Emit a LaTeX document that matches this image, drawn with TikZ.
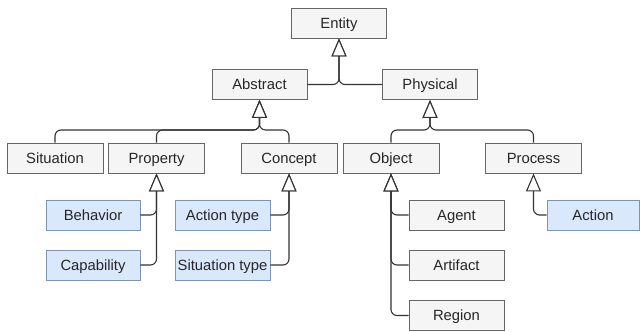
\documentclass[tikz,border=0pt]{standalone}
\usepackage{fontspec}
\setmainfont{Liberation Sans}
\usetikzlibrary{arrows.meta}
\definecolor{gfill}{HTML}{F5F5F5}
\definecolor{gline}{HTML}{666666}
\definecolor{bfill}{HTML}{DAE8FC}
\definecolor{bline}{HTML}{7F93B3}
\definecolor{conn}{HTML}{333333}
\begin{document}
\begin{tikzpicture}[x=1pt,y=1pt,
  box/.style={draw=gline, fill=gfill, line width=0.9pt, minimum width=95pt, minimum height=30pt, inner sep=1pt, text height=12pt, text depth=1.5pt, font=\fontsize{14.8}{16}\selectfont, text=black!85},
  bbox/.style={box, draw=bline, fill=bfill},
  inh/.style={draw=conn, line width=1.1pt, rounded corners=6pt, -{Triangle[width=15pt,length=18pt,fill=white,line width=1.1pt]}}
]
\useasboundingbox (0,0) rectangle (640,-332);
% nodes
\node[box] (entity) at (339,-23) {Entity};
\node[box] (abstract) at (259.5,-84.5) {Abstract};
\node[box] (physical) at (430,-84.5) {Physical};
\node[box, minimum width=96pt] (situation) at (55,-158) {Situation};
\node[box, minimum width=96pt] (property) at (156.5,-158) {Property};
\node[box, minimum width=96pt] (concept) at (289,-158) {Concept};
\node[box, minimum width=96pt] (object) at (391,-158) {Object};
\node[box, minimum width=96pt] (process) at (533.5,-158) {Process};
\node[bbox, minimum width=94pt] (behavior) at (93,-215) {Behavior};
\node[bbox, minimum width=94pt] (capability) at (93,-265) {Capability};
\node[bbox] (actiontype) at (222.5,-215) {Action type};
\node[bbox] (situationtype) at (222.5,-265) {Situation type};
\node[box] (agent) at (456.5,-215) {Agent};
\node[box] (artifact) at (456.5,-265) {Artifact};
\node[box] (region) at (456.5,-315.5) {Region};
\node[bbox, minimum width=92pt] (action) at (593,-215) {Action};
% bus points
\coordinate (busA) at (259.5,-130);
\coordinate (busP) at (430,-130);
% connectors
\draw[inh] (abstract.east) -| (entity.south);
\draw[inh] (physical.west) -| (entity.south);
\draw[inh] (situation.north) |- (busA) -- (abstract.south);
\draw[inh] (property.north) |- (busA) -- (abstract.south);
\draw[inh] (concept.north) |- (busA) -- (abstract.south);
\draw[inh] (object.north) |- (busP) -- (physical.south);
\draw[inh] (process.north) |- (busP) -- (physical.south);
\draw[inh] (behavior.east) -| (property.south);
\draw[inh] (capability.east) -| (property.south);
\draw[inh] (actiontype.east) -| (concept.south);
\draw[inh] (situationtype.east) -| (concept.south);
\draw[inh] (agent.west) -| (object.south);
\draw[inh] (artifact.west) -| (object.south);
\draw[inh] (region.west) -| (object.south);
\draw[inh] (action.west) -| (process.south);
\end{tikzpicture}
\end{document}
